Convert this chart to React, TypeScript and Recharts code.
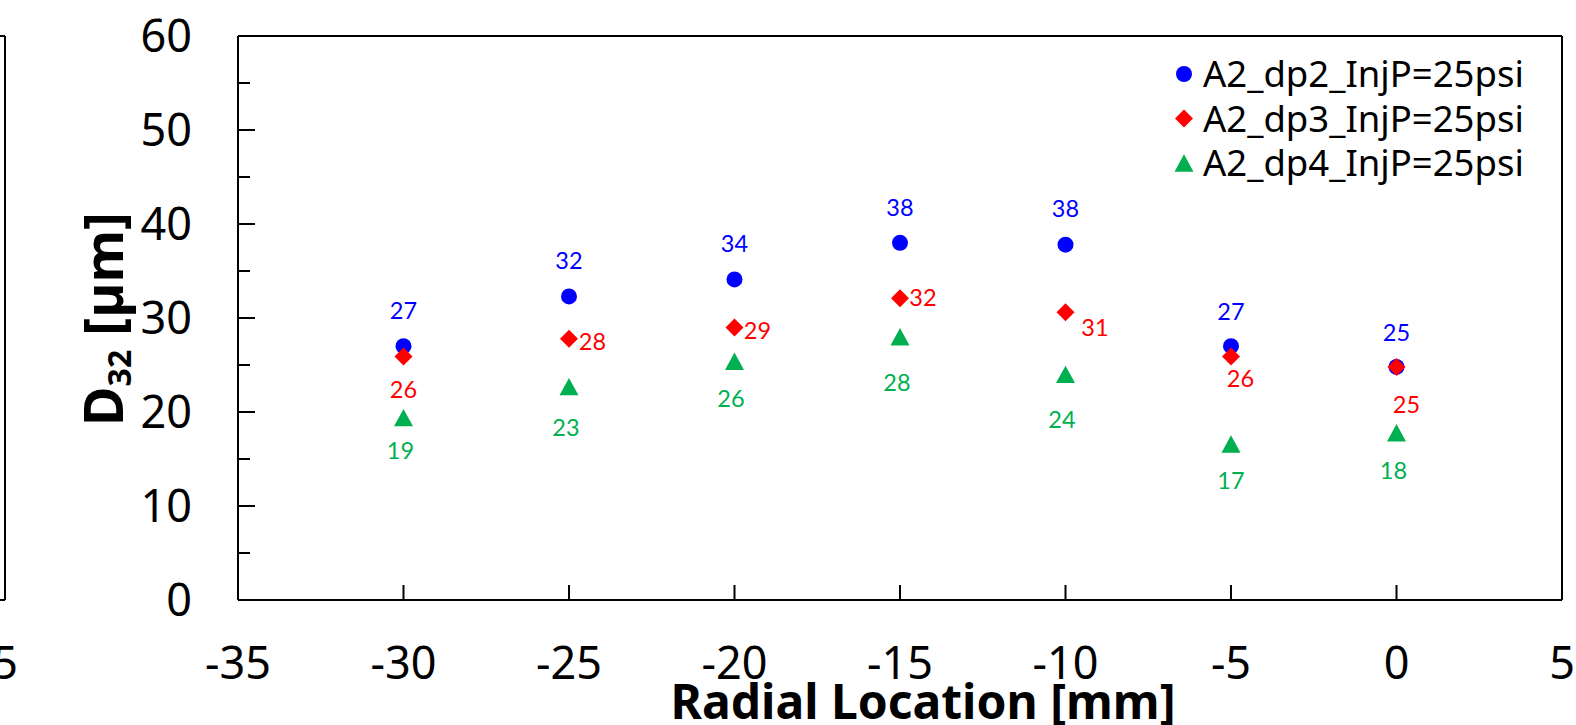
import React from 'react'
import { ScatterChart, Scatter, XAxis, YAxis, Legend, ReferenceLine } from 'recharts'

// radial positions [mm]
const radialMm = [-30, -25, -20, -15, -10, -5, 0]

const dp2Values = [27.0, 32.3, 34.1, 38.0, 37.8, 27.0, 24.8]
const dp3Values = [25.9, 27.8, 29.0, 32.1, 30.6, 25.9, 24.8]
const dp4Values = [19.4, 22.7, 25.4, 28.0, 24.0, 16.6, 17.8]

// data label texts as printed on the chart
const dp2Labels = ['27', '32', '34', '38', '38', '27', '25']
const dp3Labels = ['26', '28', '29', '32', '31', '26', '25']
const dp4Labels = ['19', '23', '26', '28', '24', '17', '18']

const xTicks = [-35, -30, -25, -20, -15, -10, -5, 0, 5]
const yTicks = [0, 5, 10, 15, 20, 25, 30, 35, 40, 45, 50, 55, 60]
// the neighbouring panel only shows its last x tick
const ghostXTicks = [5]

// label nudges (px) relative to the marker, like the hand-placed labels in the original
const dp2Shift = [[0, -35.5], [0, -36], [0, -36], [0, -35.5], [0, -36], [0, -34.5], [0, -34.5]]
const dp3Shift = [[0, 33], [23.5, 3], [23, 3], [23, -1], [29.5, 15], [9.5, 22], [10, 38]]
const dp4Shift = [[-3, 33], [-3, 41], [-3.5, 37], [-3, 45.5], [-3.5, 44.7], [0, 37], [-3, 37.4]]

const W = 1576
const H = 725
const TICK_FONT = "'Noto Sans', sans-serif"

const series = [
  { name: 'A2_dp2_InjP=25psi', values: dp2Values, labels: dp2Labels, shift: dp2Shift, color: '#0000FF', marker: 'circle' },
  { name: 'A2_dp3_InjP=25psi', values: dp3Values, labels: dp3Labels, shift: dp3Shift, color: '#FF0000', marker: 'diamond' },
  { name: 'A2_dp4_InjP=25psi', values: dp4Values, labels: dp4Labels, shift: dp4Shift, color: '#00B050', marker: 'triangle' },
]

const drawMarker = (marker: string, cx: number, cy: number, color: string) => {
  if (marker === 'circle') return <circle cx={cx} cy={cy} r={8} fill={color} />
  if (marker === 'diamond')
    return <polygon points={`${cx},${cy - 9} ${cx + 9},${cy} ${cx},${cy + 9} ${cx - 9},${cy}`} fill={color} />
  return <polygon points={`${cx},${cy - 8.7} ${cx + 9.5},${cy + 8.7} ${cx - 9.5},${cy + 8.7}`} fill={color} />
}

const makeShape = (s: any) => (props: any) => {
  const { cx, cy, payload } = props
  const [dx, dy] = s.shift[payload.i]
  return (
    <g>
      {drawMarker(s.marker, cx, cy, s.color)}
      <text
        x={cx + dx}
        y={cy + dy}
        dy="0.36em"
        textAnchor="middle"
        fill={s.color}
        fontFamily="Lato, sans-serif"
        fontSize={23.5}
      >
        {payload.label}
      </text>
    </g>
  )
}

const XTick = (props: any) => {
  const { x, y, payload } = props
  return (
    <g>
      <line x1={x} x2={x} y1={y} y2={y - 15} stroke="#000" strokeWidth={2} />
      <text x={x} y={y + 63} dy="0.36em" textAnchor="middle" fontFamily={TICK_FONT} fontSize={45} fill="#000">
        {payload.value}
      </text>
    </g>
  )
}

const YTick = (props: any) => {
  const { x, y, payload } = props
  const major = payload.value % 10 === 0
  return (
    <g>
      <line x1={x} x2={x + (major ? 17 : 12)} y1={y} y2={y} stroke="#000" strokeWidth={2} />
      {major && (
        <text x={x - 46} y={y} dy="0.36em" textAnchor="end" fontFamily={TICK_FONT} fontSize={45} fill="#000">
          {payload.value}
        </text>
      )}
    </g>
  )
}

const XTitle = (props: any) => {
  const vb = props.viewBox
  return (
    <text
      x={vb.x + vb.width / 2 + 23}
      y={vb.y + 119}
      textAnchor="middle"
      fontFamily={TICK_FONT}
      fontWeight="bold"
      fontSize={48}
      fill="#000"
    >
      Radial Location [mm]
    </text>
  )
}

const YTitle = (props: any) => {
  const vb = props.viewBox
  const cx = vb.x + vb.width - 115
  const cy = vb.y + vb.height / 2 + 1
  return (
    <text
      x={cx}
      y={cy}
      transform={`rotate(-90, ${cx}, ${cy})`}
      textAnchor="middle"
      fontFamily={TICK_FONT}
      fontWeight="bold"
      fontSize={54}
      fill="#000"
    >
      D
      <tspan fontSize={32} dy={8}>32</tspan>
      <tspan dy={-8}>{'\u00a0[µm]'}</tspan>
    </text>
  )
}

const LegendBox = () => (
  <svg width={400} height={150}>
    {series.map((s, i) => {
      const cy = 34 + i * 44.5
      return (
        <g key={s.name}>
          {drawMarker(s.marker, 24, cy, s.color)}
          <text x={43} y={cy + 13} fontFamily={TICK_FONT} fontSize={36.5} fill="#000">
            {s.name}
          </text>
        </g>
      )
    })}
  </svg>
)

function Panel({ ghost = false }: { ghost?: boolean }) {
  return (
    <ScatterChart width={W} height={H} margin={{ top: 36, right: 14, bottom: 95, left: 178 }}>
      <XAxis
        type="number"
        dataKey="x"
        domain={[-35, 5]}
        ticks={ghost ? ghostXTicks : xTicks}
        interval={0}
        height={30}
        tickSize={0}
        tickMargin={0}
        tickLine={false}
        tick={<XTick />}
        axisLine={{ stroke: '#000', strokeWidth: 2 }}
        allowDataOverflow
        label={ghost ? undefined : XTitle}
      />
      <YAxis
        type="number"
        dataKey="y"
        domain={[0, 60]}
        ticks={yTicks}
        interval={0}
        width={60}
        tickSize={0}
        tickMargin={0}
        tickLine={false}
        tick={ghost ? false : <YTick />}
        axisLine={{ stroke: '#000', strokeWidth: 2 }}
        allowDataOverflow
        label={ghost ? undefined : YTitle}
      />
      <ReferenceLine y={60} stroke="#000" strokeWidth={2} />
      <ReferenceLine x={5} stroke="#000" strokeWidth={2} />
      {!ghost &&
        series.map((s) => (
          <Scatter
            key={s.name}
            name={s.name}
            data={radialMm.map((x, i) => ({ x, y: s.values[i], label: s.labels[i], i }))}
            fill={s.color}
            shape={makeShape(s)}
            isAnimationActive={false}
          />
        ))}
      {!ghost && (
        <Legend
          layout="horizontal"
          verticalAlign="middle"
          align="center"
          content={LegendBox}
          wrapperStyle={{ position: 'absolute', left: 1160, top: 40, width: 400, height: 150 }}
        />
      )}
    </ScatterChart>
  )
}

export default function App() {
  return (
    <div style={{ position: 'absolute', left: 0, top: 0, width: W, height: H, overflow: 'hidden', background: '#fff' }}>
      {/* neighbouring panel, only its right edge shows */}
      <div style={{ position: 'absolute', left: 5 - 1562, top: 0 }}>
        <Panel ghost />
      </div>
      <div style={{ position: 'absolute', left: 0, top: 0 }}>
        <Panel />
      </div>
    </div>
  )
}
